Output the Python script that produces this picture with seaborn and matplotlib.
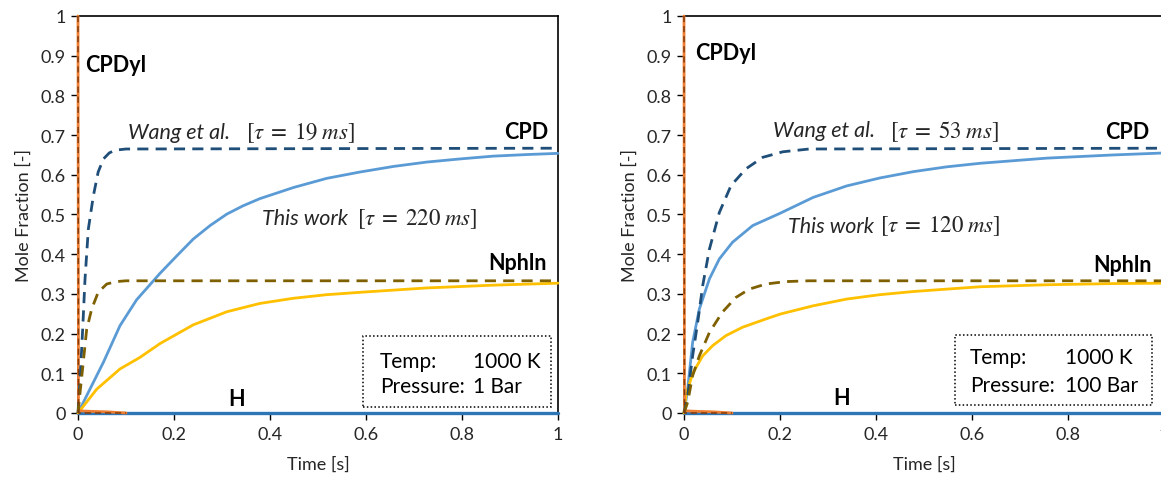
import numpy as np
import pandas as pd
import matplotlib
matplotlib.use("Agg")
import matplotlib.pyplot as plt
from matplotlib.patches import Rectangle
from matplotlib.ticker import FuncFormatter, MultipleLocator
import seaborn as sns

sns.set_theme(style="white")
plt.rcParams['font.family'] = ['Lato', 'DejaVu Sans']
plt.rcParams['mathtext.fontset'] = 'stix'

# ---------------- data: left panel (1 Bar) ----------------
L_wang_cpd_t = [0, 0.005, 0.0097, 0.0146, 0.0215, 0.032, 0.042, 0.053, 0.065, 0.077, 0.1, 1.0]
L_wang_cpd_y = [0, 0.10, 0.21, 0.337, 0.463, 0.547, 0.607, 0.640, 0.655, 0.662, 0.665, 0.667]
L_this_cpd_t = [0, 0.053, 0.0875, 0.122, 0.171, 0.206, 0.24, 0.275, 0.31, 0.344, 0.379, 0.449,
                0.518, 0.5875, 0.657, 0.726, 0.796, 0.865, 0.935, 1.0]
L_this_cpd_y = [0, 0.128, 0.22, 0.285, 0.352, 0.396, 0.438, 0.472, 0.501, 0.522, 0.540, 0.568,
                0.591, 0.607, 0.621, 0.632, 0.640, 0.647, 0.651, 0.654]
L_wang_nph_t = [0, 0.005, 0.011, 0.018, 0.0285, 0.042, 0.06, 0.08, 0.1, 1.0]
L_wang_nph_y = [0, 0.06, 0.128, 0.21, 0.262, 0.304, 0.325, 0.331, 0.333, 0.333]
L_this_nph_t = [0, 0.039, 0.0875, 0.129, 0.171, 0.24, 0.31, 0.379, 0.449, 0.518, 0.5875,
                0.726, 0.865, 1.0]
L_this_nph_y = [0, 0.06, 0.111, 0.14, 0.175, 0.222, 0.255, 0.276, 0.289, 0.298, 0.304,
                0.315, 0.322, 0.327]

# ---------------- data: right panel (100 Bar) ----------------
R_wang_cpd_t = [0, 0.0076, 0.018, 0.0285, 0.039, 0.053, 0.0736, 0.098, 0.129, 0.164, 0.206, 0.261, 1.0]
R_wang_cpd_y = [0, 0.044, 0.144, 0.228, 0.321, 0.413, 0.505, 0.573, 0.615, 0.644, 0.658, 0.665, 0.667]
R_this_cpd_t = [0, 0.0076, 0.018, 0.032, 0.053, 0.0736, 0.101, 0.143, 0.2, 0.269, 0.339,
                0.408, 0.478, 0.547, 0.617, 0.756, 0.894, 1.0]
R_this_cpd_y = [0, 0.06, 0.178, 0.262, 0.338, 0.388, 0.43, 0.472, 0.503, 0.543, 0.572,
                0.592, 0.608, 0.620, 0.629, 0.642, 0.650, 0.655]
R_wang_nph_t = [0, 0.0076, 0.018, 0.032, 0.053, 0.08, 0.108, 0.136, 0.171, 0.2125, 0.26, 1.0]
R_wang_nph_y = [0, 0.027, 0.094, 0.144, 0.203, 0.254, 0.291, 0.312, 0.325, 0.331, 0.333, 0.333]
R_this_nph_t = [0, 0.004, 0.018, 0.039, 0.06, 0.0875, 0.122, 0.171, 0.2, 0.269, 0.339,
                0.408, 0.478, 0.547, 0.617, 0.756, 0.894, 1.0]
R_this_nph_y = [0, 0.044, 0.10, 0.144, 0.17, 0.195, 0.216, 0.237, 0.249, 0.27, 0.287,
                0.298, 0.306, 0.312, 0.318, 0.323, 0.326, 0.327]

# ---------------- shared: CPDyl and H ----------------
cpdyl_t = [0, 0.001, 0.01, 0.03, 0.06, 0.1]
cpdyl_this_y = [1.0, 0.006, 0.005, 0.004, 0.003, 0.0]
cpdyl_wang_y = [1.0, 0.0, 0.0, 0.0, 0.0, 0.0]
h_t = [0, 0.5, 1.0]
h_y = [0, 0, 0]

panels = [
    dict(wc=(L_wang_cpd_t, L_wang_cpd_y), tc=(L_this_cpd_t, L_this_cpd_y),
         wn=(L_wang_nph_t, L_wang_nph_y), tn=(L_this_nph_t, L_this_nph_y),
         tau_w="19", tau_t="220", press="1 Bar",
         cpdyl=(0.015, 0.879), cpd=(0.979, 0.708), nph=(0.977, 0.38), h=(0.331, 0.037),
         wang=(0.104, 0.35, 0.708), this=(0.383, 0.581, 0.49),
         box=(0.594, 0.015, 0.391, 0.179), tx=0.629, vx=0.823, ty1=0.131, ty2=0.068),
    dict(wc=(R_wang_cpd_t, R_wang_cpd_y), tc=(R_this_cpd_t, R_this_cpd_y),
         wn=(R_wang_nph_t, R_wang_nph_y), tn=(R_this_nph_t, R_this_nph_y),
         tau_w="53", tau_t="120", press="100 Bar",
         cpdyl=(0.023, 0.909), cpd=(0.969, 0.71), nph=(0.975, 0.375), h=(0.329, 0.04),
         wang=(0.185, 0.429, 0.712), this=(0.217, 0.408, 0.472),
         box=(0.565, 0.02, 0.41, 0.176), tx=0.596, vx=0.794, ty1=0.141, ty2=0.07),
]

C_LBLUE = "#5B9BD5"
C_DBLUE = "#1F4E79"
C_YEL = "#FFC000"
C_OLIVE = "#7F6000"
C_ORANGE = "#ED7D31"
C_BROWN = "#843C0C"
C_HBLUE = "#2E75B6"

fig = plt.figure(figsize=(11.61, 4.81), dpi=100)
positions = [[78/1161, 1-414/481, 480/1161, 397/481],
             [684/1161, 1-414/481, 480/1161, 397/481]]

LW = 2.0
DASH = (0, (4, 2.6))

for pos, p in zip(positions, panels):
    ax = fig.add_axes(pos)
    ax.set_xlim(0, 1)
    ax.set_ylim(0, 1)

    def draw(t, y, color, ls, lw, z):
        sns.lineplot(x=t, y=y, ax=ax, color=color, linestyle=ls, linewidth=lw,
                     sort=False, estimator=None, zorder=z, clip_on=False)

    draw(h_t, h_y, C_HBLUE, '-', 2.4, 3)
    draw(*p['tc'], C_LBLUE, '-', LW, 3)
    draw(*p['tn'], C_YEL, '-', LW, 3)
    draw(cpdyl_t, cpdyl_this_y, C_ORANGE, '-', LW, 3.5)
    draw(*p['wc'], C_DBLUE, DASH, LW, 4)
    draw(*p['wn'], C_OLIVE, DASH, LW, 4)
    draw(cpdyl_t, cpdyl_wang_y, C_BROWN, DASH, 1.1, 4)

    for s in ax.spines.values():
        s.set_color('black')
        s.set_linewidth(1.2)
    ax.xaxis.set_major_locator(MultipleLocator(0.2))
    ax.yaxis.set_major_locator(MultipleLocator(0.1))
    fmt = FuncFormatter(lambda v, _: f"{int(round(v))}" if abs(v - round(v)) < 1e-9 else f"{v:.1f}")
    ax.xaxis.set_major_formatter(fmt)
    ax.yaxis.set_major_formatter(fmt)
    ax.tick_params(axis='both', which='major', direction='out', length=5, width=1,
                   color='black', labelsize=13, labelcolor='#262626', pad=4,
                   bottom=True, left=True)
    ax.set_xlabel("Time [s]", fontsize=13, color='#262626', labelpad=10)
    ax.set_ylabel("Mole Fraction [-]", fontsize=13, color='#262626', labelpad=6)

    bold = dict(fontsize=15.5, fontweight='bold', va='center', color='black')
    ax.text(*p['cpdyl'], "CPDyl", ha='left', **bold)
    ax.text(*p['cpd'], "CPD", ha='right', **bold)
    ax.text(*p['nph'], "Nphln", ha='right', **bold)
    ax.text(*p['h'], "H", ha='center', **bold)

    wx, wmx, wy = p['wang']
    ax.text(wx, wy, "Wang et al.", fontsize=15.5, style='italic', va='center', ha='left', color='#262626')
    ax.text(wmx, wy, "$[\\tau\\;=\\;%s\\;ms]$" % p['tau_w'], fontsize=16.5, va='center', ha='left', color='#262626')
    tx_, tmx, ty_ = p['this']
    ax.text(tx_, ty_, "This work", fontsize=15.5, style='italic', va='center', ha='left', color='#262626')
    ax.text(tmx, ty_, "$[\\tau\\;=\\;%s\\;ms]$" % p['tau_t'], fontsize=16.5, va='center', ha='left', color='#262626')

    bx, by, bw, bh = p['box']
    ax.add_patch(Rectangle((bx, by), bw, bh, fill=True, facecolor='white', edgecolor='black',
                           linestyle=(0, (1, 1.5)), linewidth=1.1, zorder=5))
    box_kw = dict(fontsize=15, va='center', ha='left', zorder=6, color='black')
    ax.text(p['tx'], p['ty1'], "Temp:", **box_kw)
    ax.text(p['vx'], p['ty1'], "1000 K", **box_kw)
    ax.text(p['tx'], p['ty2'], "Pressure:", **box_kw)
    ax.text(p['vx'], p['ty2'], p['press'], **box_kw)

fig.savefig("out.png", dpi=100)
